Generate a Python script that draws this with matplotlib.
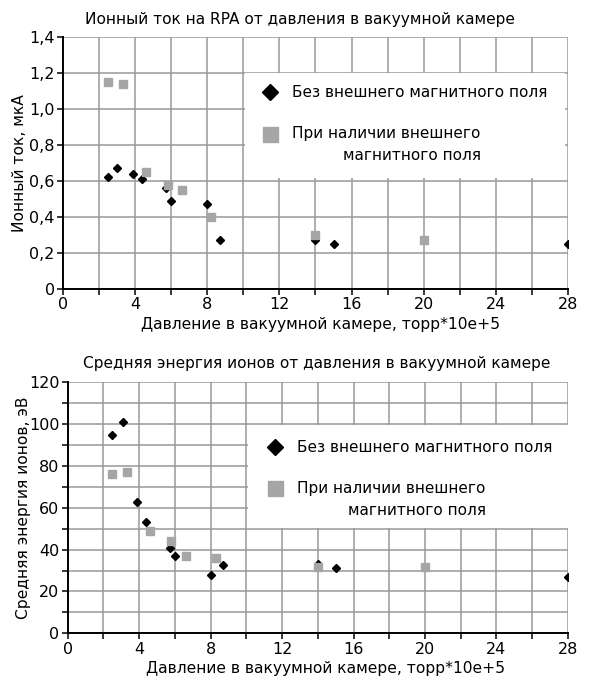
import numpy as np
import matplotlib.pyplot as plt
from matplotlib.ticker import MultipleLocator, FuncFormatter
from matplotlib.patches import Rectangle

plt.rcParams['font.family'] = ['DejaVu Sans']

# Ионный ток
tok_bez_x = [2.5, 3.0, 3.9, 4.4, 5.7, 6.0, 8.0, 8.7, 14.0, 15.0, 28.0]
tok_bez_y = [0.62, 0.67, 0.64, 0.61, 0.56, 0.49, 0.47, 0.27, 0.27, 0.25, 0.25]
tok_pole_x = [2.5, 3.3, 4.6, 5.8, 6.6, 8.2, 14.0, 20.0]
tok_pole_y = [1.15, 1.14, 0.65, 0.58, 0.55, 0.40, 0.30, 0.27]

# Средняя энергия
en_bez_x = [2.5, 3.1, 3.9, 4.4, 5.7, 6.0, 8.0, 8.7, 14.0, 15.0, 28.0]
en_bez_y = [95, 101, 63, 53, 41, 37, 28, 32.5, 33, 31, 27]
en_pole_x = [2.5, 3.3, 4.6, 5.8, 6.6, 8.3, 14.0, 20.0]
en_pole_y = [76, 77, 49, 44, 37, 36, 31.5, 31.5]

lab_bez = 'Без внешнего магнитного поля'
lab_pole = 'При наличии внешнего\nмагнитного поля'
xlab = 'Давление в вакуумной камере, торр*10e+5'

fig = plt.figure(figsize=(5.91, 6.86), dpi=100)
ax1 = fig.add_axes([0.1066, 0.5787, 0.8544, 0.3673])
ax2 = fig.add_axes([0.1146, 0.0768, 0.8464, 0.3659])

def oformit(ax, ymax, ymaj, ymin, fmt, xlab_x):
    ax.set_xlim(0, 28)
    ax.set_ylim(0, ymax)
    ax.xaxis.set_major_locator(MultipleLocator(4))
    ax.xaxis.set_minor_locator(MultipleLocator(2))
    ax.yaxis.set_major_locator(MultipleLocator(ymaj))
    ax.yaxis.set_minor_locator(MultipleLocator(ymin))
    ax.yaxis.set_major_formatter(FuncFormatter(fmt))
    ax.grid(True, which='both', color='#999999', lw=1.1, zorder=0)
    ax.set_axisbelow(True)
    for s in ['top', 'right']:
        ax.spines[s].set_visible(False)
    for s in ['left', 'bottom']:
        ax.spines[s].set_linewidth(1.4)
    ax.tick_params(which='both', direction='out', length=4, width=1.1, labelsize=11.5, pad=2)
    ax.set_xlabel(xlab, fontsize=11.2, labelpad=3, x=xlab_x)

def zap(v, pos):
    if v == 0:
        return '0'
    return ('%.1f' % v).replace('.', ',')

oformit(ax1, 1.4, 0.2, 0.2, zap, 0.511)
oformit(ax2, 120, 20, 10, lambda v, p: '%d' % v, 0.516)

ax1.plot(tok_bez_x, tok_bez_y, 'D', color='black', ms=4.5, ls='none', zorder=3, label=lab_bez)
ax1.plot(tok_pole_x, tok_pole_y, 's', color='#a6a6a6', ms=6, ls='none', zorder=4, label=lab_pole)
ax2.plot(en_bez_x, en_bez_y, 'D', color='black', ms=4.5, ls='none', zorder=3, label=lab_bez)
ax2.plot(en_pole_x, en_pole_y, 's', color='#a6a6a6', ms=6, ls='none', zorder=4, label=lab_pole)

ax1.set_title('Ионный ток на RPA от давления в вакуумной камере', fontsize=11.1, pad=9.5, x=0.469)
ax2.set_title('Средняя энергия ионов от давления в вакуумной камере', fontsize=11.1, pad=10, x=0.497)
ax1.set_ylabel('Ионный ток, мкА', fontsize=11.2, labelpad=1.5)
ax2.set_ylabel('Средняя энергия ионов, эВ', fontsize=11.2, labelpad=-1.5)

# белая подложка легенды (x0, y0, x1, y1) и точка привязки легенды
podlozhka = [(ax1, (0.36, 0.44, 0.994, 0.857), (0.392, 0.809)),
             (ax2, (0.36, 0.42, 1.0, 0.83), (0.396, 0.770))]
for ax, box, anchor in podlozhka:
    ax.add_patch(Rectangle(box[:2], box[2] - box[0], box[3] - box[1], transform=ax.transAxes,
                           facecolor='white', edgecolor='none', zorder=2))
    leg = ax.legend(loc='upper left', bbox_to_anchor=anchor,
                    frameon=False, fontsize=11, markerscale=1.8,
                    handletextpad=0.85, labelspacing=1.7, borderpad=0, borderaxespad=0,
                    handlelength=1.2)
    t = leg.get_texts()[1]
    t.set_multialignment('right')
    t.set_linespacing(1.6)
    # маркер второй записи - на уровне первой строки подписи
    h = leg.legend_handles[1]
    h.set_ydata(np.asarray(h.get_ydata()) + 8.5)
    leg.set_zorder(5)

fig.savefig('out.png', dpi=100)
